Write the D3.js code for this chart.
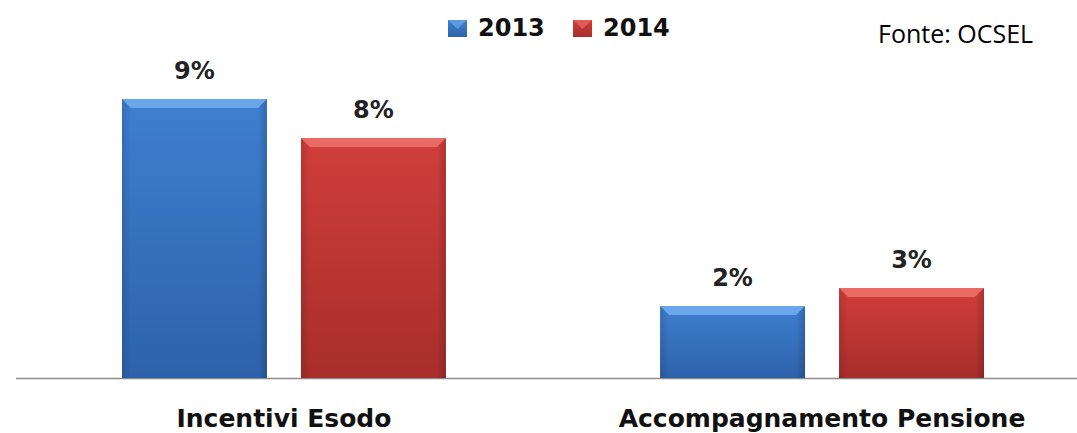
<!DOCTYPE html>
<html>
<head>
<meta charset="utf-8">
<script src="https://cdn.jsdelivr.net/npm/d3@7"></script>
<style>
  body { margin: 0; background: #fff; }
  svg { display: block; }
  .val { font-family: "DejaVu Sans", sans-serif; font-weight: bold; font-size: 24px; fill: #222; }
  .cat { font-family: "DejaVu Sans", sans-serif; font-weight: bold; font-size: 25px; fill: #111; }
  .leg { font-family: "DejaVu Sans", sans-serif; font-weight: bold; font-size: 24px; fill: #111; }
  .src { font-family: "Open Sans", sans-serif; font-size: 25px; fill: #000; }
</style>
</head>
<body>
<script>
const categories = ["Incentivi Esodo", "Accompagnamento Pensione"];
const years = ["2013", "2014"];
const values2013 = [9.3, 2.4];
const values2014 = [8.0, 3.0];
const sourceText = "Fonte: OCSEL";

const width = 1077, height = 433;
const baseY = 378;
const colors = {"2013": ["#6aa6ea", "#3f7fcf", "#2d62ab"], "2014": ["#ea6a66", "#d03e3b", "#a82e2b"]};

const rows = categories.map((c, i) => ({
  cat: c,
  vals: [{year: "2013", v: values2013[i]}, {year: "2014", v: values2014[i]}]
}));

const svg = d3.select("body").append("svg")
  .attr("width", width)
  .attr("height", height);

const defs = svg.append("defs");
years.forEach(y => {
  const g = defs.append("linearGradient")
    .attr("id", "grad" + y)
    .attr("x1", 0).attr("y1", 0).attr("x2", 0).attr("y2", 1);
  g.append("stop").attr("offset", "0%").attr("stop-color", colors[y][1]);
  g.append("stop").attr("offset", "100%").attr("stop-color", colors[y][2]);
  const h = defs.append("linearGradient")
    .attr("id", "side" + y)
    .attr("x1", 0).attr("y1", 0).attr("x2", 1).attr("y2", 0);
  h.append("stop").attr("offset", "0%").attr("stop-color", "#000").attr("stop-opacity", 0.12);
  h.append("stop").attr("offset", "6%").attr("stop-color", "#000").attr("stop-opacity", 0);
  h.append("stop").attr("offset", "94%").attr("stop-color", "#000").attr("stop-opacity", 0);
  h.append("stop").attr("offset", "100%").attr("stop-color", "#000").attr("stop-opacity", 0.18);
});

const x0 = d3.scaleBand()
  .domain(categories)
  .range([122, 984])
  .paddingInner(0.398)
  .paddingOuter(0);

const x1 = d3.scaleBand()
  .domain(years)
  .range([0, x0.bandwidth()])
  .paddingInner(0.19)
  .paddingOuter(0);

const y = d3.scaleLinear()
  .domain([0, 10])
  .range([baseY, baseY - 300]);

// baseline
svg.append("line")
  .attr("x1", 16).attr("x2", width)
  .attr("y1", baseY + 0.5).attr("y2", baseY + 0.5)
  .attr("stroke", "#8c8c8c")
  .attr("stroke-width", 1.5);

const groups = svg.selectAll("g.grp")
  .data(rows)
  .enter()
  .append("g")
  .attr("class", "grp")
  .attr("transform", d => "translate(" + x0(d.cat) + ",0)");

const bars = groups.selectAll("g.bar")
  .data(d => d.vals)
  .enter()
  .append("g")
  .attr("class", "bar");

bars.append("rect")
  .attr("x", d => x1(d.year))
  .attr("y", d => y(d.v))
  .attr("width", x1.bandwidth())
  .attr("height", d => baseY - y(d.v))
  .attr("fill", d => "url(#grad" + d.year + ")");

bars.append("rect")
  .attr("x", d => x1(d.year))
  .attr("y", d => y(d.v))
  .attr("width", x1.bandwidth())
  .attr("height", d => baseY - y(d.v))
  .attr("fill", d => "url(#side" + d.year + ")");

// top bevel
const bev = 9;
bars.append("path")
  .attr("d", d => {
    const l = x1(d.year), r = l + x1.bandwidth(), t = y(d.v);
    return "M" + l + "," + t + "L" + r + "," + t + "L" + (r - bev) + "," + (t + bev) + "L" + (l + bev) + "," + (t + bev) + "Z";
  })
  .attr("fill", d => colors[d.year][0]);

bars.append("text")
  .attr("class", "val")
  .attr("x", d => x1(d.year) + x1.bandwidth() / 2)
  .attr("y", d => y(d.v) - 20)
  .attr("text-anchor", "middle")
  .text(d => d3.format(".0f")(d.v) + "%");

svg.selectAll("text.cat")
  .data(categories)
  .enter()
  .append("text")
  .attr("class", "cat")
  .attr("x", d => x0(d) + x0.bandwidth() / 2)
  .attr("y", 427)
  .attr("text-anchor", "middle")
  .text(d => d);

// legend
const leg = svg.selectAll("g.leg")
  .data(years)
  .enter()
  .append("g")
  .attr("transform", (d, i) => "translate(" + (448 + i * 125) + ",0)");

leg.append("rect")
  .attr("x", 0).attr("y", 20)
  .attr("width", 19).attr("height", 17)
  .attr("fill", d => "url(#grad" + d + ")");

leg.append("path")
  .attr("d", "M0,20L19,20L9.5,29Z")
  .attr("fill", d => colors[d][0])
  .attr("opacity", 0.7);

leg.append("text")
  .attr("class", "leg")
  .attr("x", 30)
  .attr("y", 36)
  .text(d => d);

svg.append("text")
  .attr("class", "src")
  .attr("x", 878)
  .attr("y", 43)
  .text(sourceText);
</script>
</body>
</html>
